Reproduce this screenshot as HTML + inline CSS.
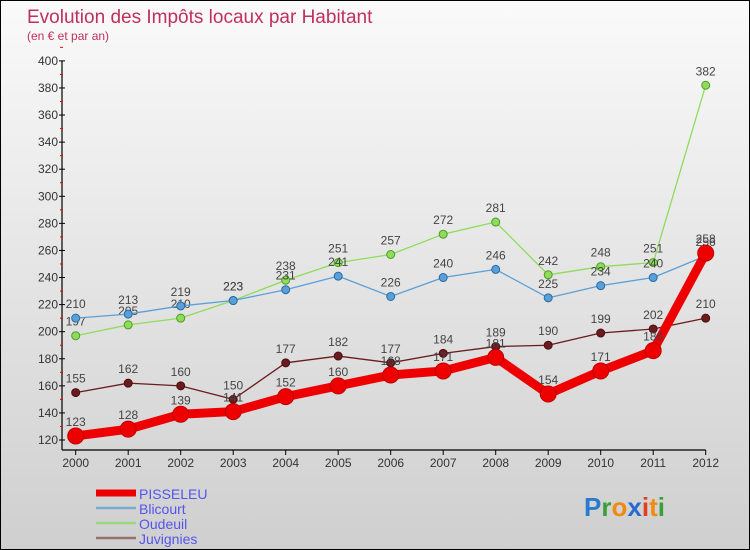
<!DOCTYPE html>
<html><head><meta charset="utf-8"><style>
body{margin:0;}
#wrap{position:relative;width:748px;height:548px;border:1px solid #000;background:linear-gradient(#fafafa,#cfcfcf);font-family:"Liberation Sans",sans-serif;overflow:hidden}
</style></head><body>
<div id="wrap">
<svg id="svg" width="748" height="548"></svg>
</div>
<script>
const years=[2000,2001,2002,2003,2004,2005,2006,2007,2008,2009,2010,2011,2012];
const pisseleu=[123,128,139,141,152,160,168,171,181,154,171,186,258];
const blicourt=[210,213,219,223,231,241,226,240,246,225,234,240,256];
const oudeuil=[197,205,210,223,238,251,257,272,281,242,248,251,382];
const juvignies=[155,162,160,150,177,182,177,184,189,190,199,202,210];
const yTicks=[120,140,160,180,200,220,240,260,280,300,320,340,360,380,400];
const NS='http://www.w3.org/2000/svg';
const svg=document.getElementById('svg');
const X=i=>74.7+i*52.5;
const Y=v=>439-(v-120)*1.354;
function mk(t,a,p){const e=document.createElementNS(NS,t);for(const k in a)e.setAttribute(k,a[k]);(p||svg).appendChild(e);return e;}
let t=mk('text',{x:26,y:22,fill:'#c0305a','font-size':19});t.textContent='Evolution des Impôts locaux par Habitant';

t=mk('text',{x:26,y:39,fill:'#c0305a','font-size':12});t.textContent='(en € et par an)';

// axes
let ax=mk('line',{x1:61,y1:Y(400),x2:61,y2:449,stroke:'#000','stroke-width':1.2});

ax=mk('line',{x1:61,y1:449,x2:X(12),y2:449,stroke:'#000','stroke-width':1.2});

yTicks.forEach(v=>{
  mk('line',{x1:58,y1:Y(v),x2:64,y2:Y(v),stroke:'#000'});
  mk('line',{x1:59,y1:Y(v+10),x2:62,y2:Y(v+10),stroke:'#e00'});
  const l=mk('text',{x:57,y:Y(v)+4,'text-anchor':'end','font-size':12,fill:'#333'});l.textContent=v;
  
});
years.forEach((yr,i)=>{
  mk('line',{x1:X(i),y1:449,x2:X(i),y2:454,stroke:'#000'});
  const l=mk('text',{x:X(i),y:466,'text-anchor':'middle','font-size':12,fill:'#333'});l.textContent=yr;
  
});
function series(data,name,col,dark,w,r){
  const g=mk('g',{});
  
  const p=mk('polyline',{points:data.map((v,i)=>X(i)+','+Y(v)).join(' '),fill:'none',stroke:col,'stroke-width':w,'stroke-linejoin':'round'},g);
  
  data.forEach((v,i)=>{
    const c=mk('circle',{cx:X(i),cy:Y(v),r:r,fill:col,stroke:dark,'stroke-width':1},g);
    
    const l=mk('text',{x:X(i),y:Y(v)-10,'text-anchor':'middle','font-size':12,fill:'#444'},g);l.textContent=v;
    
  });
}
series(juvignies,'juvignies','#6b1a1e','#4a1014',1.3,4);
series(oudeuil,'oudeuil','#8fdc5a','#4c9a2a',1.3,4);
series(blicourt,'blicourt','#5aa0d8','#2a6aa0',1.3,4);
series(pisseleu,'pisseleu','#ee0000','#c00000',9,8);
// legend
const leg=[['PISSELEU','#ee0000',7],['Blicourt','#7aaad0',2.5],['Oudeuil','#9ad880',2.5],['Juvignies','#957070',2.5]];
leg.forEach((d,i)=>{
  const y=492+i*15;
  const g=mk('g',{});
  
  mk('line',{x1:95,y1:y,x2:135,y2:y,stroke:d[1],'stroke-width':d[2]},g);
  const l=mk('text',{x:138,y:y+6,'font-size':14,fill:'#5555ee'},g);l.textContent=d[0];
});
// logo
const lg=mk('text',{x:583,y:515,'font-size':26,'font-weight':'bold'});

[['P','#2a7ad0'],['r','#3aa03a'],['o','#f08a10'],['x','#2a6ad0'],['i','#e04020'],['t','#f08a10'],['i','#3aa03a']].forEach(c=>{const s=mk('tspan',{fill:c[1]},lg);s.textContent=c[0];});
</script>
</body></html>
